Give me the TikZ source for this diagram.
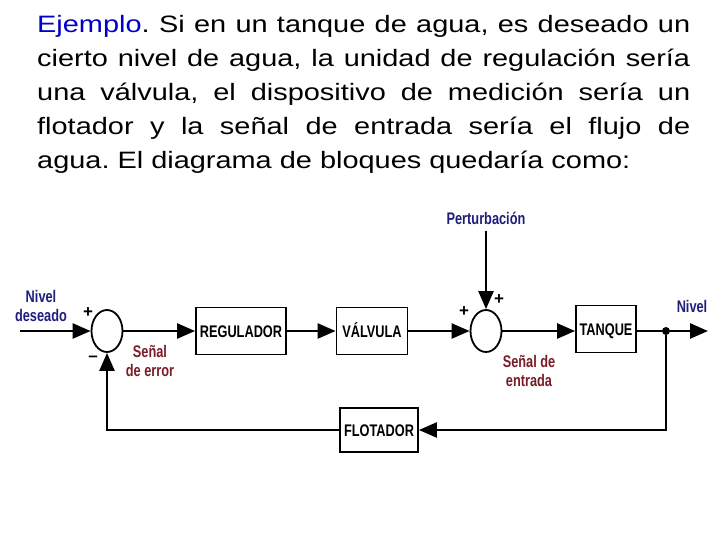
\documentclass[tikz,border=0pt]{standalone}
\usepackage{fontspec}
\setmainfont{Liberation Sans}
\newfontfamily\parrafo[FakeStretch=1.22]{Liberation Sans}
\newfontfamily\estrecha[FakeStretch=0.76]{Liberation Sans}
\usetikzlibrary{arrows.meta,shapes.geometric,positioning}
\frenchspacing
\definecolor{azulnivel}{RGB}{30,30,125}
\definecolor{rojosenal}{RGB}{120,30,40}
\definecolor{azulejemplo}{RGB}{0,0,200}
\tikzset{bloque/.style={draw,line width=1.8pt,minimum height=47pt,inner sep=2pt,text height=12pt,text depth=0pt,font=\estrecha\bfseries\fontsize{16.8}{18}\selectfont},
         suma/.style={draw,ellipse,line width=1.8pt,minimum width=31pt,minimum height=42pt,inner sep=0pt},
         flecha/.style={line width=2.5pt,-{Triangle[length=18pt,width=15pt]}},
         linea/.style={line width=2.5pt},
         etiq/.style={font=\estrecha\bfseries\fontsize{16.8}{19.5}\selectfont,align=center,inner sep=0pt},
         signo/.style={font=\bfseries\fontsize{17}{17}\selectfont,inner sep=0pt}}

\begin{document}
\begin{tikzpicture}[x=1pt,y=-1pt]
    \useasboundingbox [fill=white] (0,0) rectangle (728,546);

    \node (texto) [anchor=north west,inner sep=0pt,text width=653pt,align=justify,font=\parrafo\fontsize{23.7}{33.8}\selectfont] at (37,15.5)
        {\textcolor{azulejemplo}{Ejemplo}. Si en un tanque de agua, es deseado un\linebreak
         cierto nivel de agua, la unidad de regulación sería\linebreak
         una válvula, el dispositivo de medición sería un\linebreak
         flotador y la señal de entrada sería el flujo de\linebreak
         agua. El diagrama de bloques quedaría como:};

    \node (sum1)   [suma]                         at (107,331) {};
    \node (reg)    [bloque,minimum width=90pt]    at (241,331) {REGULADOR};
    \node (valv)   [bloque,minimum width=71pt]    at (372,331) {VÁLVULA};
    \node (sum2)   [suma]                         at (486,331) {};
    \node (tanque) [bloque,minimum width=60pt]    at (606,329) {TANQUE};
    \node (flot)   [bloque,minimum width=78pt,minimum height=44pt] at (379,430) {FLOTADOR};
    \node (punto)  [circle,fill,inner sep=0pt,minimum size=8pt] at (666,331) {};
    \coordinate (entrada) at (20,331);
    \coordinate (salida)  at (708,331);

    \node (deseado) [etiq,text=azulnivel]  at (41,306)  {Nivel\\deseado};
    \node (pert)    [etiq,text=azulnivel]  at (486,218) {Perturbación};
    \node (nivel)   [etiq,text=azulnivel]  at (692,306) {Nivel};
    \node (error)   [etiq,text=rojosenal]  at (150,361) {Señal\\de error};
    \node (senal)   [etiq,text=rojosenal]  at (529,371) {Señal de\\entrada};

    \node (mas1)   [signo] at (88,313)  {+};
    \node (menos1) [signo] at (93,359)  {--};
    \node (mas2)   [signo] at (464,312) {+};
    \node (mas3)   [signo] at (499,300) {+};

    \draw [flecha] (entrada) -- (sum1);
    \draw [flecha] (sum1) -- (reg);
    \draw [flecha] (reg) -- (valv);
    \draw [flecha] (valv) -- (sum2);
    \draw [flecha,shorten <=7pt] (pert) -- (sum2);
    \draw [flecha] (sum2) -- (sum2 -| tanque.west);
    \draw [linea]  (sum2 -| tanque.east) -- (punto);
    \draw [flecha] (punto) -- (salida);
    \draw [flecha] (punto) |- (flot);
    \draw [flecha] (flot) -| (sum1);
\end{tikzpicture}
\end{document}
